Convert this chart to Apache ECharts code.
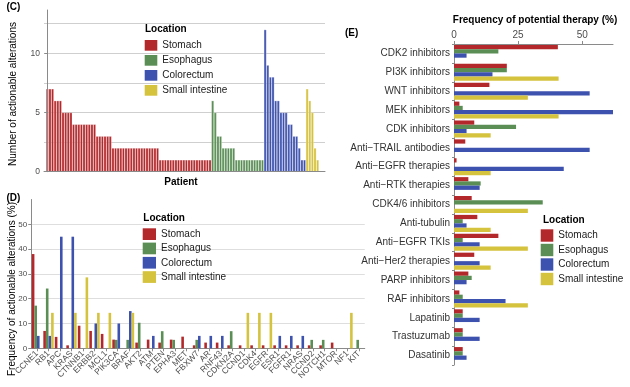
<!DOCTYPE html>
<html><head><meta charset="utf-8">
<script src="https://cdn.jsdelivr.net/npm/echarts@6/dist/echarts.min.js"></script>
<style>html,body{margin:0;padding:0;background:#fff}#c{width:630px;height:387px}</style>
</head><body><div id="c"></div>
<script>
// ---------- shared ----------
const locations = ['Stomach', 'Esophagus', 'Colorectum', 'Small intestine'];
const locColors = ['#B3282B', '#5A8E55', '#3D51AF', '#D5C23D'];

// ---------- Panel C: number of actionable alterations per patient ----------
const stomachCounts = [7,7,7,6,6,6,5,5,5,5,4,4,4,4,4,4,4,4,4,3,3,3,3,3,3,
  2,2,2,2,2,2,2,2,2,2,2,2,2,2,2,2,2,2,
  1,1,1,1,1,1,1,1,1,1,1,1,1,1,1,1,1,1,1,1];
const esophagusCounts = [6,5,3,3,2,2,2,2,2,1,1,1,1,1,1,1,1,1,1,1];
const colorectumCounts = [12,9,8,8,6,6,5,5,5,4,4,3,3,2,1,1];
const smallIntestineCounts = [7,6,5,2,1];
const cTicks = [0, 5, 10];

// ---------- Panel D: frequency of actionable alterations (%) ----------
const genes = ['CCNE1','RB1','APC','KRAS','CTNNB1','ERBB2','MCL1','PIK3CA','BRAF','AKT2','ATM','PTEN','EPHA3','MET','FBXW7','AR','RNF43','CDKN2A','CCND1','CDK4','EGFR','ESR1','FGFR1','NRAS','CCND2','NOTCH1','MTOR','NF1','KIT'];
const geneStomach   = [38, 7, 4.6, 1.2, 9.1, 7, 5.8, 3.5, 0, 2.3, 3.5, 2.3, 3.5, 4.7, 1.2, 2.3, 2.3, 1.2, 1.2, 1.2, 1.2, 1.2, 1.2, 1.2, 1.2, 1.2, 2.3, 0, 0];
const geneEsophagus = [17.2, 24.1, 0, 0, 0, 0, 0, 3.4, 3.4, 10.3, 0, 6.9, 3.4, 0, 3.4, 0, 0, 6.9, 0, 0, 0, 0, 0, 0, 3.4, 3.4, 0, 0, 3.4];
const geneColorectum= [5, 5, 45, 45, 0, 10, 0, 10, 15, 0, 5, 0, 0, 0, 5, 5, 5, 0, 0, 0, 0, 5, 5, 5, 0, 0, 0, 0, 0];
const geneSmallInt  = [0, 14.3, 0, 14.3, 28.6, 14.3, 14.3, 0, 14.3, 0, 0, 0, 0, 0, 0, 0, 0, 0, 14.3, 14.3, 14.3, 0, 0, 0, 0, 0, 0, 14.3, 0];
const dTicks = [0, 10, 20, 30, 40, 50];

// ---------- Panel E: frequency of potential therapy (%) ----------
const therapies = ['CDK2 inhibitors','PI3K inhibitors','WNT inhibitors','MEK inhibitors','CDK inhibitors','Anti\u2212TRAIL antibodies','Anti\u2212EGFR therapies','Anti\u2212RTK therapies','CDK4/6 inhibitors','Anti-tubulin','Anti\u2212EGFR TKIs','Anti\u2212Her2 therapies','PARP inhibitors','RAF inhibitors','Lapatinib','Trastuzumab','Dasatinib'];
const therStomach   = [40.5, 20.6, 13.8, 2.1, 7.9, 4.4, 1.0, 5.6, 6.9, 9.1, 17.3, 7.9, 5.6, 2.1, 3.4, 3.4, 3.4];
const therEsophagus = [17.3, 20.6, 0, 3.4, 24.2, 0, 0, 10.4, 34.6, 3.4, 3.4, 0, 6.9, 3.4, 3.4, 3.4, 3.4];
const therColorectum= [4.9, 15, 52.9, 62.9, 4.9, 52.9, 42.8, 10, 0, 4.9, 10, 10, 4.9, 20.1, 10, 10, 4.9];
const therSmallInt  = [0, 40.8, 28.8, 40.8, 14.3, 0, 14.3, 0, 28.8, 14.3, 28.8, 14.3, 0, 28.8, 0, 0, 0];
const eTicks = [0, 25, 50];

// ---------- build ----------
const FONT = '"Liberation Sans", Arial, Helvetica, sans-serif';
const AXIS = '#8a8a8a';
const TICKTXT = '#4d4d4d';
const GRIDC = '#dedede';
const GRIDC_C = '#cfcfcf';

const cGroups = [stomachCounts, esophagusCounts, colorectumCounts, smallIntestineCounts];
let pid = 0;
const cData = cGroups.map(arr => arr.map(v => [pid++, v]));
const dGroups = [geneStomach, geneEsophagus, geneColorectum, geneSmallInt];
const eGroups = [therStomach, therEsophagus, therColorectum, therSmallInt];

const series = [];
locations.forEach((name, k) => {
  series.push({
    type: 'bar', name, xAxisIndex: 0, yAxisIndex: 0, data: cData[k],
    barWidth: 2.625, barGap: '-100%', z: 3,
    itemStyle: { color: locColors[k], borderColor: 'rgba(255,255,255,0.55)', borderWidth: 0.5 }
  });
});
locations.forEach((name, k) => {
  series.push({
    type: 'bar', name, xAxisIndex: 1, yAxisIndex: 1, data: dGroups[k],
    barGap: '0%', barCategoryGap: '10%',
    itemStyle: { color: locColors[k] }
  });
});
locations.forEach((name, k) => {
  series.push({
    type: 'bar', name, xAxisIndex: 2, yAxisIndex: 2, data: eGroups[k],
    barGap: '0%', barCategoryGap: '10%',
    itemStyle: { color: locColors[k] }
  });
});

function legendAt(left, top, w, h, gap) {
  return {
    data: locations, orient: 'vertical', left, top, padding: 0,
    itemWidth: w, itemHeight: h, itemGap: gap, icon: 'rect', selectedMode: false,
    itemStyle: { borderWidth: 0 },
    textStyle: { fontSize: 10, color: '#1a1a1a', fontFamily: FONT, lineHeight: h }
  };
}
function txt(text, x, y, opts) {
  opts = opts || {};
  return {
    type: 'text', x, y, rotation: opts.rot || 0, silent: true,
    style: {
      text, fill: opts.color || '#000', font: (opts.bold ? 'bold ' : '') + (opts.size || 10) + 'px ' + FONT,
      align: opts.align || 'left', verticalAlign: 'middle'
    }
  };
}

// Panel C value axis: 0 at y=171.7, 11.84 px per alteration.
const C_ZERO = 171.7, C_PX = 11.84, C_TOP = 10;
const C_MAX = (C_ZERO - C_TOP) / C_PX;

const option = {
  animation: false,
  backgroundColor: '#fff',
  textStyle: { fontFamily: FONT },
  grid: [
    { left: 44, top: C_TOP, width: 281, height: C_ZERO - C_TOP, outerBoundsMode: 'none' },
    { left: 31.25, top: 199.5, width: 333.5, height: 148.8, outerBoundsMode: 'none' },
    { left: 454, top: 44, width: 159, height: 321, outerBoundsMode: 'none' },
    { left: 44, top: C_ZERO - 12.5 * C_PX, width: 281, height: 12.5 * C_PX, outerBoundsMode: 'none' }
  ],
  xAxis: [
    { type: 'value', gridIndex: 0, min: -1.26, max: 105.8,
      axisLine: { show: true, lineStyle: { color: AXIS } }, axisTick: { show: false },
      axisLabel: { show: false }, splitLine: { show: false }, z: 4 },
    { type: 'category', gridIndex: 1, data: genes,
      axisLine: { show: true, lineStyle: { color: AXIS } },
      axisTick: { show: true, alignWithLabel: true, length: 3, lineStyle: { color: AXIS } },
      axisLabel: { rotate: 45, interval: 0, fontSize: 8.5, color: TICKTXT, margin: 4 },
      splitLine: { show: false } },
    { type: 'value', gridIndex: 2, position: 'top', min: 0, max: 62,
      axisLine: { show: true, lineStyle: { color: AXIS } },
      axisTick: { show: true, customValues: eTicks, length: 3, lineStyle: { color: AXIS } },
      axisLabel: { customValues: eTicks, fontSize: 10, color: TICKTXT, margin: 4 },
      splitLine: { show: false } },
    { type: 'category', gridIndex: 3, data: ['a'],
      axisLine: { show: false }, axisTick: { show: false }, axisLabel: { show: false }, splitLine: { show: false } }
  ],
  yAxis: [
    { type: 'value', gridIndex: 0, min: 0, max: C_MAX, interval: 5,
      axisLine: { show: true, lineStyle: { color: AXIS } },
      axisTick: { show: true, customValues: cTicks, length: 3, lineStyle: { color: AXIS } },
      axisLabel: { customValues: cTicks, fontSize: 8.5, color: TICKTXT, margin: 4 },
      splitLine: { show: false }, z: 4 },
    { type: 'value', gridIndex: 1, min: 0, max: 60, interval: 10,
      axisLine: { show: true, lineStyle: { color: AXIS } },
      axisTick: { show: true, customValues: dTicks, length: 3, lineStyle: { color: AXIS } },
      axisLabel: { customValues: dTicks, fontSize: 8, color: TICKTXT, margin: 4 },
      splitLine: { show: false } },
    { type: 'category', gridIndex: 2, data: therapies, inverse: true,
      axisLine: { show: true, lineStyle: { color: AXIS } },
      axisTick: { show: true, length: 2, lineStyle: { color: AXIS } },
      axisLabel: { fontSize: 10, color: '#333', margin: 4, interval: 0 },
      splitLine: { show: false } },
    { type: 'value', gridIndex: 1, min: 0, max: 60, interval: 10, position: 'left',
      axisLine: { show: false }, axisTick: { show: false }, axisLabel: { show: false },
      splitLine: { show: true, showMaxLine: false, lineStyle: { color: GRIDC, width: 1 } } },
    // grid lines of panel C (0, 2.5, ..., 12.5) expressed in half-steps 0..5
    { type: 'value', gridIndex: 3, min: 0, max: 5, interval: 1, position: 'left',
      axisLine: { show: false }, axisTick: { show: false }, axisLabel: { show: false },
      splitLine: { show: true, lineStyle: { color: GRIDC_C, width: 1 } } }
  ],
  legend: [
    legendAt(144.7, 40, 12.6, 10.7, 4.3),
    legendAt(142.7, 228.3, 13.3, 11.7, 2.6),
    legendAt(540.7, 229.3, 12.6, 12.4, 2.1)
  ],
  graphic: [
    txt('Small intestine', 382, -3.2, { bold: true, size: 12, color: '#DDD070' }),
    txt('(C)', 6.5, 7.5, { bold: true, size: 10 }),
    txt('Number of actionable alterations', 13, 94, { rot: Math.PI / 2, align: 'center', size: 10 }),
    txt('Patient', 181, 182, { bold: true, align: 'center', size: 10 }),
    txt('Location', 145, 29, { bold: true, size: 10 }),
    txt('(D)', 6.5, 198.5, { bold: true, size: 10 }),
    txt('Frequency of actionable alterations (%)', 12, 289, { rot: Math.PI / 2, align: 'center', size: 10 }),
    txt('Location', 143.3, 218.3, { bold: true, size: 10 }),
    txt('(E)', 345, 33.5, { bold: true, size: 10 }),
    txt('Frequency of potential therapy (%)', 535, 20, { bold: true, align: 'center', size: 10 }),
    txt('Location', 543, 220.7, { bold: true, size: 10 })
  ],
  series
};

const chart = echarts.init(document.getElementById('c'), null, { renderer: 'canvas', width: 630, height: 387 });
chart.setOption(option);
</script>
</body></html>
